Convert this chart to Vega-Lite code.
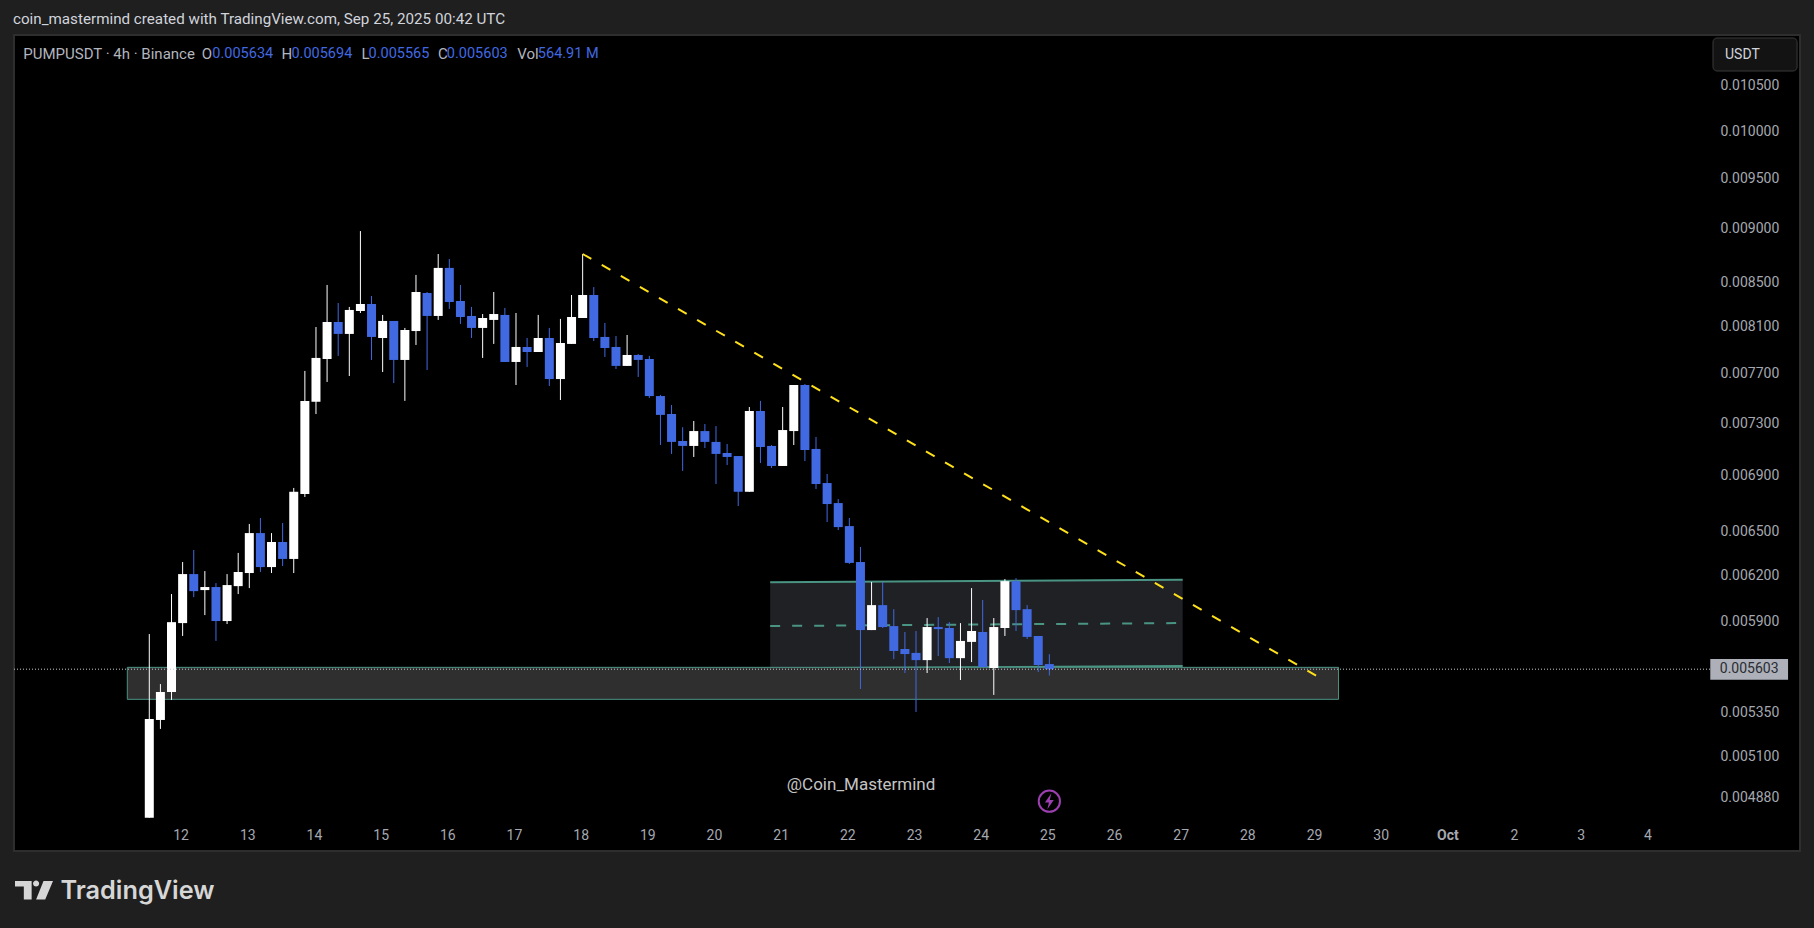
{
  "$schema": "https://vega.github.io/schema/vega-lite/v6.json",
  "description": "PUMPUSDT 4h candles with range box, support zone and trend line",
  "width": 1786,
  "height": 816,
  "autosize": {"type": "none"},
  "padding": {"left": 14, "top": 35, "right": 14, "bottom": 77},
  "background": "#1f1f1f",
  "view": {"fill": "#000000", "stroke": "#2e2e2e", "strokeWidth": 2},
  "title": {
    "text": "coin_mastermind created with TradingView.com, Sep 25, 2025 00:42 UTC",
    "anchor": "start",
    "frame": "group",
    "font": "Roboto",
    "fontSize": 15.2,
    "fontWeight": "normal",
    "color": "#d1d4dc",
    "offset": 8,
    "dx": -1
  },
  "datasets": {
    "candles": [
      {"t":"2025-09-11T12:00Z","o":0.004775,"h":0.005819,"l":0.004775,"c":0.005311},
      {"t":"2025-09-11T16:00Z","o":0.005305,"h":0.005514,"l":0.005254,"c":0.005467},
      {"t":"2025-09-11T20:00Z","o":0.005467,"h":0.006075,"l":0.005420,"c":0.005894},
      {"t":"2025-09-12T00:00Z","o":0.005888,"h":0.006288,"l":0.005807,"c":0.006207},
      {"t":"2025-09-12T04:00Z","o":0.006207,"h":0.006370,"l":0.006055,"c":0.006094},
      {"t":"2025-09-12T08:00Z","o":0.006101,"h":0.006227,"l":0.005939,"c":0.006121},
      {"t":"2025-09-12T12:00Z","o":0.006121,"h":0.006147,"l":0.005776,"c":0.005901},
      {"t":"2025-09-12T16:00Z","o":0.005901,"h":0.006207,"l":0.005882,"c":0.006134},
      {"t":"2025-09-12T20:00Z","o":0.006127,"h":0.006350,"l":0.006075,"c":0.006221},
      {"t":"2025-09-13T00:00Z","o":0.006214,"h":0.006551,"l":0.006114,"c":0.006487},
      {"t":"2025-09-13T04:00Z","o":0.006487,"h":0.006593,"l":0.006221,"c":0.006254},
      {"t":"2025-09-13T08:00Z","o":0.006254,"h":0.006487,"l":0.006214,"c":0.006425},
      {"t":"2025-09-13T12:00Z","o":0.006425,"h":0.006558,"l":0.006261,"c":0.006309},
      {"t":"2025-09-13T16:00Z","o":0.006309,"h":0.006810,"l":0.006214,"c":0.006782},
      {"t":"2025-09-13T20:00Z","o":0.006766,"h":0.007724,"l":0.006744,"c":0.007479},
      {"t":"2025-09-14T00:00Z","o":0.007472,"h":0.008098,"l":0.007374,"c":0.007833},
      {"t":"2025-09-14T04:00Z","o":0.007824,"h":0.008473,"l":0.007633,"c":0.008142},
      {"t":"2025-09-14T08:00Z","o":0.008142,"h":0.008310,"l":0.007850,"c":0.008038},
      {"t":"2025-09-14T12:00Z","o":0.008038,"h":0.008275,"l":0.007682,"c":0.008248},
      {"t":"2025-09-14T16:00Z","o":0.008239,"h":0.008979,"l":0.008221,"c":0.008301},
      {"t":"2025-09-14T20:00Z","o":0.008301,"h":0.008373,"l":0.007816,"c":0.008012},
      {"t":"2025-09-15T00:00Z","o":0.008003,"h":0.008204,"l":0.007715,"c":0.008151},
      {"t":"2025-09-15T04:00Z","o":0.008151,"h":0.008151,"l":0.007624,"c":0.007816},
      {"t":"2025-09-15T08:00Z","o":0.007816,"h":0.008090,"l":0.007479,"c":0.008072},
      {"t":"2025-09-15T12:00Z","o":0.008063,"h":0.008565,"l":0.007943,"c":0.008409},
      {"t":"2025-09-15T16:00Z","o":0.008400,"h":0.008409,"l":0.007732,"c":0.008195},
      {"t":"2025-09-15T20:00Z","o":0.008195,"h":0.008760,"l":0.008160,"c":0.008630},
      {"t":"2025-09-16T00:00Z","o":0.008630,"h":0.008713,"l":0.008257,"c":0.008319},
      {"t":"2025-09-16T04:00Z","o":0.008328,"h":0.008473,"l":0.008125,"c":0.008186},
      {"t":"2025-09-16T08:00Z","o":0.008195,"h":0.008275,"l":0.008003,"c":0.008090},
      {"t":"2025-09-16T12:00Z","o":0.008090,"h":0.008212,"l":0.007833,"c":0.008177},
      {"t":"2025-09-16T16:00Z","o":0.008160,"h":0.008409,"l":0.007952,"c":0.008212},
      {"t":"2025-09-16T20:00Z","o":0.008204,"h":0.008266,"l":0.007799,"c":0.007799},
      {"t":"2025-09-17T00:00Z","o":0.007799,"h":0.008221,"l":0.007608,"c":0.007926},
      {"t":"2025-09-17T04:00Z","o":0.007926,"h":0.008003,"l":0.007757,"c":0.007883},
      {"t":"2025-09-17T08:00Z","o":0.007883,"h":0.008204,"l":0.007883,"c":0.008003},
      {"t":"2025-09-17T12:00Z","o":0.008003,"h":0.008090,"l":0.007600,"c":0.007657},
      {"t":"2025-09-17T16:00Z","o":0.007657,"h":0.008169,"l":0.007486,"c":0.007960},
      {"t":"2025-09-17T20:00Z","o":0.007952,"h":0.008382,"l":0.007952,"c":0.008186},
      {"t":"2025-09-18T00:00Z","o":0.008177,"h":0.008760,"l":0.008177,"c":0.008382},
      {"t":"2025-09-18T04:00Z","o":0.008382,"h":0.008454,"l":0.007977,"c":0.008003},
      {"t":"2025-09-18T08:00Z","o":0.008012,"h":0.008134,"l":0.007841,"c":0.007917},
      {"t":"2025-09-18T12:00Z","o":0.007926,"h":0.008020,"l":0.007740,"c":0.007766},
      {"t":"2025-09-18T16:00Z","o":0.007766,"h":0.008029,"l":0.007766,"c":0.007858},
      {"t":"2025-09-18T20:00Z","o":0.007858,"h":0.007866,"l":0.007674,"c":0.007816},
      {"t":"2025-09-19T00:00Z","o":0.007824,"h":0.007850,"l":0.007502,"c":0.007518},
      {"t":"2025-09-19T04:00Z","o":0.007518,"h":0.007527,"l":0.007132,"c":0.007367},
      {"t":"2025-09-19T08:00Z","o":0.007374,"h":0.007446,"l":0.007064,"c":0.007156},
      {"t":"2025-09-19T12:00Z","o":0.007163,"h":0.007270,"l":0.006936,"c":0.007125},
      {"t":"2025-09-19T16:00Z","o":0.007125,"h":0.007319,"l":0.007041,"c":0.007240},
      {"t":"2025-09-19T20:00Z","o":0.007240,"h":0.007295,"l":0.007109,"c":0.007156},
      {"t":"2025-09-20T00:00Z","o":0.007156,"h":0.007279,"l":0.006839,"c":0.007064},
      {"t":"2025-09-20T04:00Z","o":0.007071,"h":0.007140,"l":0.006980,"c":0.007041},
      {"t":"2025-09-20T08:00Z","o":0.007048,"h":0.007048,"l":0.006679,"c":0.006782},
      {"t":"2025-09-20T12:00Z","o":0.006782,"h":0.007430,"l":0.006782,"c":0.007398},
      {"t":"2025-09-20T16:00Z","o":0.007398,"h":0.007479,"l":0.006995,"c":0.007117},
      {"t":"2025-09-20T20:00Z","o":0.007125,"h":0.007132,"l":0.006958,"c":0.006973},
      {"t":"2025-09-21T00:00Z","o":0.006973,"h":0.007430,"l":0.006973,"c":0.007248},
      {"t":"2025-09-21T04:00Z","o":0.007240,"h":0.007608,"l":0.007132,"c":0.007608},
      {"t":"2025-09-21T08:00Z","o":0.007608,"h":0.007616,"l":0.007010,"c":0.007094},
      {"t":"2025-09-21T12:00Z","o":0.007102,"h":0.007194,"l":0.006802,"c":0.006839},
      {"t":"2025-09-21T16:00Z","o":0.006846,"h":0.006913,"l":0.006565,"c":0.006693},
      {"t":"2025-09-21T20:00Z","o":0.006700,"h":0.006729,"l":0.006508,"c":0.006529},
      {"t":"2025-09-22T00:00Z","o":0.006536,"h":0.006593,"l":0.006275,"c":0.006282},
      {"t":"2025-09-22T04:00Z","o":0.006288,"h":0.006391,"l":0.005485,"c":0.005844},
      {"t":"2025-09-22T08:00Z","o":0.005844,"h":0.006154,"l":0.005844,"c":0.006003},
      {"t":"2025-09-22T12:00Z","o":0.006003,"h":0.006154,"l":0.005857,"c":0.005863},
      {"t":"2025-09-22T16:00Z","o":0.005869,"h":0.005977,"l":0.005664,"c":0.005714},
      {"t":"2025-09-22T20:00Z","o":0.005726,"h":0.005832,"l":0.005580,"c":0.005695},
      {"t":"2025-09-23T00:00Z","o":0.005702,"h":0.005838,"l":0.005351,"c":0.005658},
      {"t":"2025-09-23T04:00Z","o":0.005658,"h":0.005920,"l":0.005580,"c":0.005863},
      {"t":"2025-09-23T08:00Z","o":0.005863,"h":0.005926,"l":0.005683,"c":0.005850},
      {"t":"2025-09-23T12:00Z","o":0.005857,"h":0.005894,"l":0.005640,"c":0.005670},
      {"t":"2025-09-23T16:00Z","o":0.005670,"h":0.005888,"l":0.005538,"c":0.005776},
      {"t":"2025-09-23T20:00Z","o":0.005770,"h":0.006114,"l":0.005646,"c":0.005838},
      {"t":"2025-09-24T00:00Z","o":0.005832,"h":0.006036,"l":0.005616,"c":0.005616},
      {"t":"2025-09-24T04:00Z","o":0.005610,"h":0.005920,"l":0.005450,"c":0.005863},
      {"t":"2025-09-24T08:00Z","o":0.005857,"h":0.006174,"l":0.005807,"c":0.006160},
      {"t":"2025-09-24T12:00Z","o":0.006160,"h":0.006180,"l":0.005838,"c":0.005971},
      {"t":"2025-09-24T16:00Z","o":0.005977,"h":0.006003,"l":0.005788,"c":0.005801},
      {"t":"2025-09-24T20:00Z","o":0.005807,"h":0.005807,"l":0.005586,"c":0.005628},
      {"t":"2025-09-25T00:00Z","o":0.005634,"h":0.005694,"l":0.005565,"c":0.005603}
    ],
    "channel": [
      {"t":"2025-09-20T19:30Z","p":0.0061524,"p2":0.0056081},
      {"t":"2025-09-27T00:00Z","p":0.0061697,"p2":0.0056220}
    ],
    "channelEdges": [
      {"t":"2025-09-20T19:30Z","p":0.0061524,"edge":"top"},
      {"t":"2025-09-27T00:00Z","p":0.0061697,"edge":"top"},
      {"t":"2025-09-20T19:30Z","p":0.0056081,"edge":"bottom"},
      {"t":"2025-09-27T00:00Z","p":0.0056220,"edge":"bottom"}
    ],
    "channelMid": [
      {"t":"2025-09-20T19:30Z","p":0.0058694},
      {"t":"2025-09-27T00:00Z","p":0.0058884}
    ],
    "zone": [
      {"t":"2025-09-11T04:05Z","t2":"2025-09-29T08:06Z","p":0.0056141,"p2":0.0054241}
    ],
    "trend": [
      {"t":"2025-09-18T00:00Z","p":0.0087602},
      {"t":"2025-09-29T00:00Z","p":0.0055643}
    ],
    "lastPrice": [
      {"t":"2025-09-09T11:18Z","t2":"2025-10-04T21:55Z","p":0.005603}
    ],
    "priceBox": [
      {"t":"2025-10-04T21:55Z","t2":"2025-10-06T01:55Z","p":0.0056648,"p2":0.0055399}
    ],
    "priceText": [
      {"t":"2025-10-05T11:55Z","p":0.005603,"label":"0.005603"}
    ],
    "unitBox": [
      {"t":"2025-10-04T22:54Z","t2":"2025-10-06T05:10Z","p":0.0110532,"p2":0.0106675}
    ],
    "unitText": [
      {"t":"2025-10-05T03:13Z","p":0.010853,"label":"USDT"}
    ],
    "legendText": [
      {"t":"2025-09-09T14:38Z","p":0.010864,"label":"PUMPUSDT · 4h · Binance","kind":"name"},
      {"t":"2025-09-12T06:52Z","p":0.010864,"label":"O","kind":"name"},
      {"t":"2025-09-12T10:41Z","p":0.010864,"label":"0.005634","kind":"value"},
      {"t":"2025-09-13T11:35Z","p":0.010864,"label":"H","kind":"name"},
      {"t":"2025-09-13T15:10Z","p":0.010864,"label":"0.005694","kind":"value"},
      {"t":"2025-09-14T16:22Z","p":0.010864,"label":"L","kind":"name"},
      {"t":"2025-09-14T18:55Z","p":0.010864,"label":"0.005565","kind":"value"},
      {"t":"2025-09-15T19:56Z","p":0.010864,"label":"C","kind":"name"},
      {"t":"2025-09-15T23:06Z","p":0.010864,"label":"0.005603","kind":"value"},
      {"t":"2025-09-17T00:26Z","p":0.010864,"label":"Vol","kind":"name"},
      {"t":"2025-09-17T07:52Z","p":0.010864,"label":"564.91 M","kind":"value"}
    ],
    "watermark": [
      {"t":"2025-09-22T04:13Z","p":0.0049488,"label":"@Coin_Mastermind"}
    ],
    "flash": [
      {"t":"2025-09-25T00:00Z","p":0.0048606}
    ],
    "logo": [
      {"t":"2025-09-09T18:30Z","p":0.0044176}
    ],
    "logoText": [
      {"t":"2025-09-10T04:00Z","p":0.0043736,"label":"TradingView"}
    ]
  },
  "encoding": {
    "x": {
      "field": "t",
      "type": "temporal",
      "scale": {"type": "utc", "domain": [1757416668480, 1759731177600], "nice": false, "padding": 0},
      "axis": {
        "title": null,
        "orient": "bottom",
        "offset": -16,
        "grid": false,
        "domain": false,
        "ticks": false,
        "labelPadding": 0,
        "labelOffset": -2,
        "labelBaseline": "middle",
        "labelFont": "Roboto",
        "labelFontSize": 14,
        "labelColor": "#a5a8b0",
        "labelFontWeight": {"condition": {"test": "utcdate(datum.value) == 1", "value": "bold"}, "value": "normal"},
        "labelOverlap": false,
        "labelExpr": "utcdate(datum.value) == 1 ? 'Oct' : utcFormat(datum.value, '%-d')",
        "values": [1757635200000, 1757721600000, 1757808000000, 1757894400000, 1757980800000, 1758067200000, 1758153600000, 1758240000000, 1758326400000, 1758412800000, 1758499200000, 1758585600000, 1758672000000, 1758758400000, 1758844800000, 1758931200000, 1759017600000, 1759104000000, 1759190400000, 1759276800000, 1759363200000, 1759449600000, 1759536000000]
      }
    },
    "y": {
      "field": "p",
      "type": "quantitative",
      "scale": {"type": "log", "domain": [0.0046071, 0.0110889], "nice": false},
      "axis": {
        "title": null,
        "orient": "right",
        "offset": -80,
        "grid": false,
        "domain": false,
        "ticks": false,
        "labelPadding": 0,
        "labelAlign": "left",
        "labelFont": "Roboto",
        "labelFontSize": 14,
        "labelColor": "#a5a8b0",
        "labelOverlap": false,
        "format": ".6f",
        "values": [0.0105, 0.01, 0.0095, 0.009, 0.0085, 0.0081, 0.0077, 0.0073, 0.0069, 0.0065, 0.0062, 0.0059, 0.00535, 0.0051, 0.00488]
      }
    }
  },
  "layer": [
    {
      "data": {"name": "channel"},
      "mark": {"type": "area", "color": "#202125"},
      "encoding": {"y2": {"field": "p2"}}
    },
    {
      "data": {"name": "channelEdges"},
      "mark": {"type": "line", "color": "#4a9484", "strokeWidth": 2},
      "encoding": {"detail": {"field": "edge"}}
    },
    {
      "data": {"name": "channelMid"},
      "mark": {"type": "line", "color": "#4a9484", "strokeWidth": 2, "strokeDash": [10, 12]}
    },
    {
      "data": {"name": "zone"},
      "mark": {"type": "rect", "fill": "#2f2f30", "stroke": "#4a9484", "strokeWidth": 1},
      "encoding": {"x2": {"field": "t2"}, "y2": {"field": "p2"}}
    },
    {
      "data": {"name": "candles"},
      "mark": {"type": "rule", "strokeWidth": 1},
      "encoding": {
        "y": {"field": "l", "type": "quantitative", "axis": {"title": null, "orient": "right", "grid": false}, "scale": {"type": "log", "domain": [0.0046071, 0.0110889], "nice": false}},
        "y2": {"field": "h"},
        "color": {"condition": {"test": "datum.c >= datum.o", "value": "#ffffff"}, "value": "#4169e1"}
      }
    },
    {
      "data": {"name": "candles"},
      "mark": {"type": "bar", "size": 9},
      "encoding": {
        "y": {"field": "o", "type": "quantitative", "axis": {"title": null, "orient": "right", "grid": false}, "scale": {"type": "log", "domain": [0.0046071, 0.0110889], "nice": false}},
        "y2": {"field": "c"},
        "color": {"condition": {"test": "datum.c >= datum.o", "value": "#ffffff"}, "value": "#4169e1"}
      }
    },
    {
      "data": {"name": "trend"},
      "mark": {"type": "line", "color": "#ffe11a", "strokeWidth": 2, "strokeDash": [10, 12]}
    },
    {
      "data": {"name": "lastPrice"},
      "mark": {"type": "rule", "color": "#c8cacf", "strokeWidth": 1, "strokeDash": [1, 2]},
      "encoding": {"x2": {"field": "t2"}}
    },
    {
      "data": {"name": "priceBox"},
      "mark": {"type": "rect", "fill": "#adb0b8"},
      "encoding": {"x2": {"field": "t2"}, "y2": {"field": "p2"}}
    },
    {
      "data": {"name": "priceText"},
      "mark": {"type": "text", "align": "center", "baseline": "middle", "font": "Roboto", "fontSize": 14, "color": "#2a2c33"},
      "encoding": {"text": {"field": "label"}}
    },
    {
      "data": {"name": "unitBox"},
      "mark": {"type": "rect", "fill": "#131313", "stroke": "#3a3a3a", "strokeWidth": 1, "cornerRadius": 4},
      "encoding": {"x2": {"field": "t2"}, "y2": {"field": "p2"}}
    },
    {
      "data": {"name": "unitText"},
      "mark": {"type": "text", "align": "left", "baseline": "middle", "font": "Roboto", "fontSize": 14, "color": "#d1d4dc"},
      "encoding": {"text": {"field": "label"}}
    },
    {
      "data": {"name": "legendText"},
      "mark": {"type": "text", "align": "left", "baseline": "middle", "font": "Roboto"},
      "encoding": {
        "text": {"field": "label"},
        "color": {"field": "kind", "type": "nominal", "legend": null, "scale": {"domain": ["name", "value"], "range": ["#b2b5be", "#4169e1"]}},
        "size": {"field": "kind", "type": "ordinal", "legend": null, "scale": {"domain": ["name", "value"], "range": [15, 14.5]}}
      }
    },
    {
      "data": {"name": "watermark"},
      "mark": {"type": "text", "align": "center", "baseline": "middle", "font": "Roboto", "fontSize": 17, "color": "#c4c4c4"},
      "encoding": {"text": {"field": "label"}}
    },
    {
      "data": {"name": "flash"},
      "mark": {"type": "point", "shape": "circle", "size": 452, "filled": false, "color": "#9c3fb0", "strokeWidth": 2, "opacity": 1}
    },
    {
      "data": {"name": "flash"},
      "mark": {"type": "point", "shape": "M0.25,-1 L-0.55,0.15 L-0.05,0.15 L-0.25,1 L0.55,-0.15 L0.05,-0.15 Z", "size": 256, "filled": true, "color": "#9c3fb0", "opacity": 1}
    },
    {
      "data": {"name": "logo"},
      "mark": {"type": "point", "shape": "M-1,-0.48 L-0.125,-0.48 L-0.125,0.5 L-0.536,0.5 L-0.536,-0.18 L-1,-0.18 Z M-0.05,-0.34 a0.16,0.16 0 1,0 0.32,0 a0.16,0.16 0 1,0 -0.32,0 Z M0.5,-0.48 L1,-0.48 L0.59,0.5 L0.11,0.5 Z", "size": 1444, "filled": true, "color": "#d6d6d6", "opacity": 1}
    },
    {
      "data": {"name": "logoText"},
      "mark": {"type": "text", "align": "left", "baseline": "alphabetic", "font": "Inter", "fontSize": 25.3, "fontWeight": 600, "color": "#d6d6d6"},
      "encoding": {"text": {"field": "label"}}
    }
  ]
}
